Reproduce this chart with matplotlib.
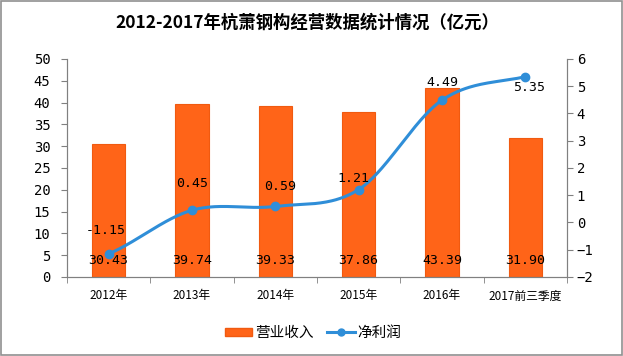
import numpy as np
import matplotlib
matplotlib.use("Agg")
import matplotlib.pyplot as plt
from matplotlib.lines import Line2D
from matplotlib.patches import Patch

plt.rcParams['font.family'] = ['Noto Sans CJK SC', 'DejaVu Sans']

categories = ['2012年', '2013年', '2014年', '2015年', '2016年', '2017前三季度']
revenue = [30.43, 39.74, 39.33, 37.86, 43.39, 31.90]
net_profit = [-1.15, 0.45, 0.59, 1.21, 4.49, 5.35]
left_ticks = [0, 5, 10, 15, 20, 25, 30, 35, 40, 45, 50]
right_ticks = [-2, -1, 0, 1, 2, 3, 4, 5, 6]
title = '2012-2017年杭萧钢构经营数据统计情况（亿元）'

# label offsets (points) for the profit annotations
label_dx = [-2, 0, 3.5, -3.5, 0.5, 3]
label_dy = [16.5, 19.5, 14.5, 8, 13, -8]

BAR = '#FF6418'
BAR_EDGE = '#F05A10'
LINE = '#2F8ED8'
AXC = '#808080'


def smooth(x, y, xs):
    """Catmull-Rom style smoothing (like spreadsheet 'smoothed line')."""
    x = np.asarray(x, float); y = np.asarray(y, float)
    n = len(x); h = np.diff(x)
    m = np.zeros(n)
    for k in range(n):
        if k == 0:
            m[k] = (y[1] - y[0]) / h[0] * 0.8
        elif k == n - 1:
            m[k] = (y[-1] - y[-2]) / h[-1] * 0.8
        else:
            m[k] = (y[k + 1] - y[k - 1]) / (x[k + 1] - x[k - 1])
    out = np.empty_like(xs)
    for i, xv in enumerate(xs):
        k = min(max(np.searchsorted(x, xv) - 1, 0), n - 2)
        t = (xv - x[k]) / h[k]
        h00 = 2 * t**3 - 3 * t**2 + 1; h10 = t**3 - 2 * t**2 + t
        h01 = -2 * t**3 + 3 * t**2; h11 = t**3 - t**2
        out[i] = h00 * y[k] + h10 * h[k] * m[k] + h01 * y[k + 1] + h11 * h[k] * m[k + 1]
    return out


fig = plt.figure(figsize=(6.23, 3.56), dpi=100)
fig.patch.set_facecolor('white')
ax = fig.add_axes([67 / 623, 1 - 277 / 356, 500 / 623, 218 / 356])
ax2 = ax.twinx()

x = np.arange(len(categories))
ax.bar(x, revenue, width=0.4, color=BAR, edgecolor=BAR_EDGE, linewidth=0.8, zorder=2)
ax.set_xlim(-0.5, len(categories) - 0.5)
ax.set_ylim(0, 50)
ax.set_yticks(left_ticks)
ax.set_xticks(x)
ax.set_xticklabels(categories, fontsize=8.5)
ax.set_xticks(np.arange(-0.5, len(categories)), minor=True)
ax.tick_params(axis='x', which='major', length=0, pad=9)
ax.tick_params(axis='x', which='minor', length=4, color=AXC)
ax.tick_params(axis='y', length=4, color=AXC, labelsize=10, pad=8)
for lab in ax.get_yticklabels():
    lab.set_family('DejaVu Sans Mono')

ax2.set_ylim(-2, 6)
ax2.set_yticks(right_ticks)
ax2.set_yticklabels([('−' + str(-t)) if t < 0 else str(t) for t in right_ticks])
ax2.tick_params(axis='y', length=4, color=AXC, labelsize=10, pad=3)
for lab in ax2.get_yticklabels():
    lab.set_family('DejaVu Sans Mono')

for a in (ax, ax2):
    a.spines['top'].set_visible(False)
    for s in ('left', 'right', 'bottom'):
        a.spines[s].set_color(AXC)
        a.spines[s].set_linewidth(0.8)

xs = np.linspace(0, len(categories) - 1, 300)
ax2.plot(xs, smooth(x, net_profit, xs), color=LINE, linewidth=2.2, zorder=3)
ax2.plot(x, net_profit, 'o', color=LINE, markersize=6, zorder=4)

for xi, v in zip(x, revenue):
    ax.text(xi, 2.2, f'{v:.2f}', ha='center', va='bottom', fontsize=9.5,
            family='DejaVu Sans Mono', zorder=5)

for xi, v, dx, dy in zip(x, net_profit, label_dx, label_dy):
    ax2.annotate(f'{v:.2f}', (xi, v), xytext=(dx, dy), textcoords='offset points',
                 ha='center', va='center', fontsize=9.5, family='DejaVu Sans Mono', zorder=5)

fig.text(307 / 623, 1 - 23 / 356, title, ha='center', va='center', fontsize=12.5,
         fontweight='bold')

handles = [Patch(facecolor=BAR, edgecolor=BAR_EDGE),
           Line2D([0], [0], color=LINE, lw=2.2, marker='o', markersize=5)]
fig.legend(handles, ['营业收入', '净利润'], loc='center', bbox_to_anchor=(313 / 623, 1 - 333 / 356),
           ncol=2, frameon=False, fontsize=10.5, handlelength=1.9, handletextpad=0.2,
           columnspacing=0.9, handleheight=0.5)

border = plt.Rectangle((0.002, 0.003), 0.996, 0.994, transform=fig.transFigure,
                       fill=False, edgecolor='#909090', linewidth=1.2)
fig.patches.append(border)

fig.savefig('out.png', dpi=100)
